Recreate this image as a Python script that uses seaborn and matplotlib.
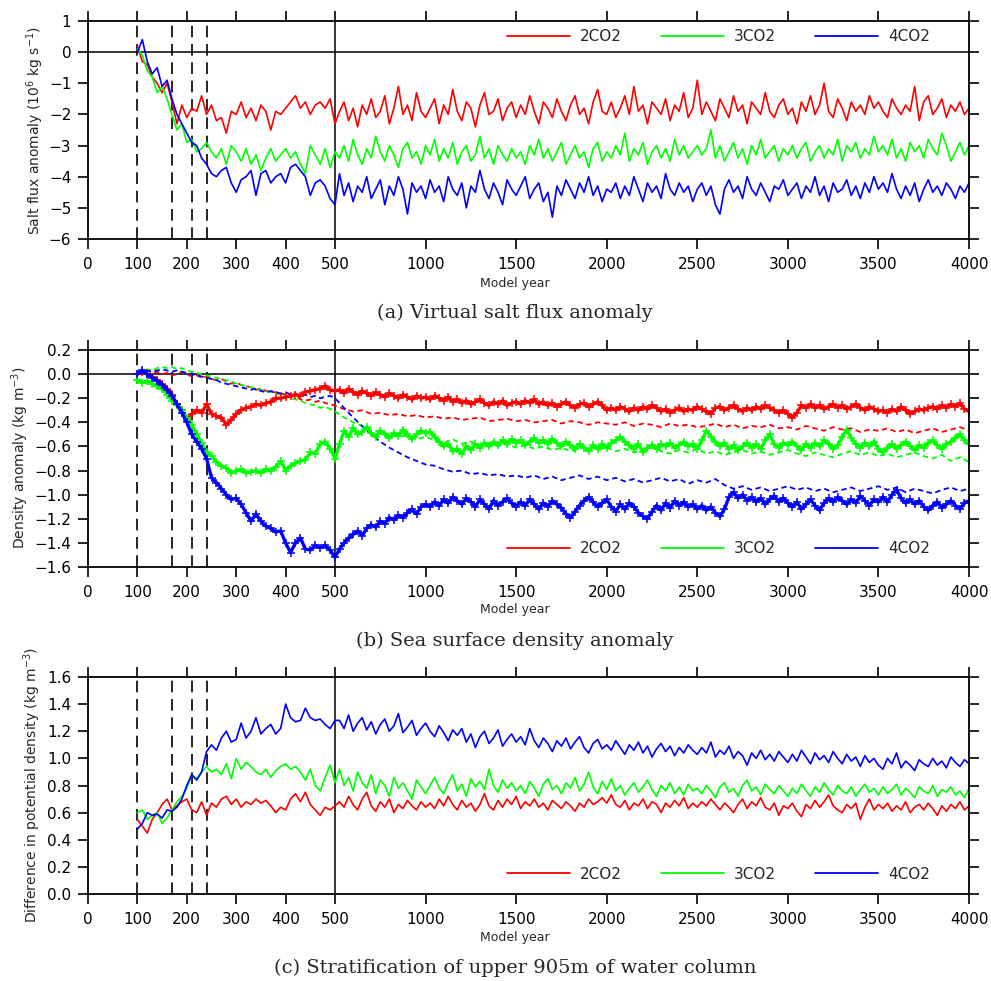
import numpy as np
import pandas as pd
import matplotlib
matplotlib.use("Agg")
import matplotlib.pyplot as plt
import seaborn as sns
from matplotlib.lines import Line2D

# ---------------------------------------------------------------- data
SCENARIOS = ["2CO2", "3CO2", "4CO2"]
COLORS = {"2CO2": "#FF0000", "3CO2": "#00FF00", "4CO2": "#0000FF"}

YEARS_EARLY = list(range(100, 501, 10))          # 41 years
YEARS_LATE = list(range(525, 4001, 25))          # 140 years
YEARS_LATE_DASHED = list(range(550, 4001, 50))   # 70 years

EVENT_YEARS = [100, 170, 210, 240]
BREAK_YEAR = 500

X_TICKS = [0, 100, 200, 300, 400, 500, 1000, 1500, 2000, 2500, 3000, 3500, 4000]
X_TICK_LABELS = ["0", "100", "200", "300", "400", "500", "1000", "1500", "2000",
                 "2500", "3000", "3500", "4000"]
YA_TICKS = [-6, -5, -4, -3, -2, -1, 0, 1]
YA_TICK_LABELS = ["\u22126", "\u22125", "\u22124", "\u22123", "\u22122", "\u22121", "0", "1"]
YB_TICKS = [-1.6, -1.4, -1.2, -1.0, -0.8, -0.6, -0.4, -0.2, 0.0, 0.2]
YB_TICK_LABELS = ["\u22121.6", "\u22121.4", "\u22121.2", "\u22121.0", "\u22120.8",
                  "\u22120.6", "\u22120.4", "\u22120.2", "0.0", "0.2"]
YC_TICKS = [0.0, 0.2, 0.4, 0.6, 0.8, 1.0, 1.2, 1.4, 1.6]
YC_TICK_LABELS = ["0.0", "0.2", "0.4", "0.6", "0.8", "1.0", "1.2", "1.4", "1.6"]

# (a) virtual salt flux anomaly
SALT_2CO2_EARLY = [0.2, -0.3, -0.4, -0.8, -1.0, -1.3, -1.0, -1.6, -2.3, -1.7,
                   -2.1, -1.8, -1.9, -1.4, -2.0, -1.7, -2.2, -2.1, -2.6, -1.9,
                   -2.0, -1.6, -2.1, -1.8, -2.2, -1.7, -1.9, -2.5, -1.9, -2.0,
                   -1.8, -1.6, -1.4, -1.8, -1.6, -2.0, -1.7, -1.6, -1.8, -1.5,
                   -2.3]
SALT_2CO2_LATE = [-1.9, -1.6, -2.2, -1.8, -2.4, -1.7, -2.0, -1.5, -2.1, -1.9, -1.4, -2.3, -1.8, -1.1, -2.0, -1.7, -2.2, -1.3, -1.9, -2.1,
                  -1.8, -1.5, -2.3, -1.7, -2.0, -1.2, -1.9, -2.2, -1.6, -1.8, -2.4, -1.7, -1.3, -2.0, -1.9, -1.5, -2.2, -1.8, -1.6, -2.1,
                  -1.7, -2.0, -1.4, -1.9, -2.3, -1.6, -1.8, -2.1, -1.5, -1.9, -2.2, -1.7, -1.4, -2.0, -1.8, -2.3, -1.6, -1.2, -1.9, -2.0,
                  -1.6, -2.1, -1.8, -1.4, -2.0, -1.1, -1.9, -1.7, -2.3, -1.6, -1.8, -2.0, -1.5, -2.2, -1.7, -1.9, -1.3, -2.1, -1.8, -0.9,
                  -2.0, -1.6, -1.9, -2.2, -1.5, -1.8, -2.1, -1.4, -1.9, -1.7, -2.3, -1.6, -1.8, -2.0, -1.3, -1.9, -2.1, -1.7, -1.5, -2.0,
                  -1.8, -2.3, -1.6, -1.9, -1.4, -2.0, -1.7, -1.0, -1.9, -2.1, -1.5, -1.8, -2.2, -1.6, -1.9, -1.7, -2.0, -1.4, -1.8, -1.6,
                  -1.9, -2.1, -1.5, -1.8, -2.0, -1.7, -1.9, -1.1, -2.2, -1.6, -1.4, -2.0, -1.8, -1.5, -2.1, -1.7, -1.9, -1.6, -2.0, -1.8]
SALT_3CO2_EARLY = [0.1, -0.1, -0.6, -0.8, -1.3, -1.1, -1.5, -2.0, -2.5, -2.3,
                   -2.9, -2.8, -3.2, -3.1, -2.9, -3.2, -3.4, -3.1, -3.6, -3.0,
                   -3.2, -3.5, -3.1, -3.6, -3.3, -3.8, -3.4, -3.1, -3.5, -3.3,
                   -3.1, -3.4, -3.2, -3.6, -3.9, -3.0, -3.3, -3.6, -3.1, -3.7,
                   -3.2]
SALT_3CO2_LATE = [-3.4, -3.0, -3.5, -2.8, -3.3, -3.6, -3.1, -3.4, -2.7, -3.2, -3.5, -3.0, -3.3, -3.7, -3.1, -2.9, -3.4, -3.2, -3.6, -3.0,
                  -3.3, -2.8, -3.5, -3.1, -3.4, -2.9, -3.6, -3.2, -3.0, -3.5, -3.3, -2.7, -3.4, -3.1, -3.6, -3.0, -3.3, -3.5, -3.1, -3.4,
                  -3.2, -3.6, -3.0, -3.3, -2.8, -3.4, -3.1, -3.5, -3.2, -2.9, -3.6, -3.3, -3.0, -3.4, -3.2, -3.7, -3.1, -2.9, -3.5, -3.2,
                  -3.4, -3.0, -3.3, -2.6, -3.5, -3.1, -3.3, -2.9, -3.6, -3.2, -3.0, -3.4, -3.1, -3.5, -2.8, -3.3, -3.0, -3.4, -3.2, -3.0,
                  -3.3, -3.1, -2.5, -3.4, -3.0, -3.5, -3.2, -2.9, -3.4, -3.1, -3.6, -3.0, -3.3, -2.8, -3.4, -3.2, -3.0, -3.5, -3.1, -3.3,
                  -3.0, -3.4, -3.1, -2.9, -3.5, -3.2, -3.0, -3.4, -3.1, -3.3, -2.8, -3.5, -3.0, -3.2, -2.9, -3.4, -3.1, -3.3, -2.7, -3.2,
                  -3.0, -3.3, -2.8, -3.4, -3.1, -3.5, -2.9, -3.2, -3.0, -3.4, -2.8, -3.1, -3.3, -2.6, -3.0, -3.5, -3.2, -2.9, -3.3, -3.0]
SALT_4CO2_EARLY = [0.0, 0.4, -0.3, -0.7, -0.5, -1.1, -0.9, -1.5, -2.0, -2.3,
                   -2.6, -2.9, -3.0, -3.4, -3.6, -3.9, -4.0, -3.8, -3.7, -4.2,
                   -4.5, -4.1, -4.0, -3.8, -4.6, -3.9, -3.8, -4.2, -4.0, -3.9,
                   -4.2, -3.7, -3.6, -3.8, -4.0, -4.6, -4.2, -4.1, -4.3, -4.7,
                   -4.9]
SALT_4CO2_LATE = [-3.9, -4.6, -4.2, -4.8, -4.3, -4.5, -4.0, -4.7, -4.4, -4.1, -4.9, -4.3, -4.6, -4.0, -4.4, -5.2, -4.2, -4.5, -4.3, -4.7,
                  -4.1, -4.5, -4.3, -4.8, -4.0, -4.4, -4.6, -4.2, -5.0, -4.3, -4.5, -3.8, -4.4, -4.7, -4.2, -4.5, -4.9, -4.1, -4.4, -4.6,
                  -4.3, -4.0, -4.7, -4.4, -4.2, -4.8, -4.5, -5.3, -4.3, -4.6, -4.1, -4.4, -4.7, -4.2, -4.5, -4.0, -4.6, -4.3, -4.8, -4.4,
                  -4.5, -4.2, -4.7, -4.3, -4.6, -4.0, -4.4, -4.8, -4.2, -4.5, -4.3, -4.7, -3.9, -4.4, -4.6, -4.2, -4.5, -4.3, -4.8, -4.4,
                  -4.2, -4.6, -4.3, -4.9, -5.2, -4.4, -4.1, -4.5, -4.3, -4.7, -4.0, -4.4, -4.6, -4.2, -4.5, -4.8, -4.3, -4.4, -4.1, -4.6,
                  -4.4, -4.2, -4.7, -4.3, -4.5, -4.0, -4.6, -4.3, -4.8, -4.2, -4.5, -4.4, -4.1, -4.6, -4.3, -4.7, -4.2, -4.5, -4.0, -4.4,
                  -4.2, -4.5, -3.9, -4.4, -4.7, -4.3, -4.6, -4.2, -4.8, -4.4, -4.1, -4.5, -4.3, -4.6, -4.2, -4.4, -4.7, -4.3, -4.5, -4.2]

# (b) sea surface density anomaly: solid (thick, "+") and dashed series
DENS_2CO2_EARLY = [0.00, 0.02, 0.00, -0.02, -0.05, -0.08, -0.12, -0.17, -0.25, -0.30,
                   -0.38, -0.33, -0.30, -0.32, -0.25, -0.33, -0.35, -0.36, -0.42, -0.38,
                   -0.33, -0.30, -0.28, -0.27, -0.25, -0.26, -0.24, -0.23, -0.20, -0.20,
                   -0.19, -0.18, -0.17, -0.18, -0.15, -0.14, -0.13, -0.12, -0.10, -0.13,
                   -0.14]
DENS_2CO2_LATE = [-0.13, -0.16, -0.12, -0.15, -0.17, -0.14, -0.16, -0.18, -0.15, -0.17, -0.19, -0.16, -0.18, -0.20, -0.17, -0.19, -0.21, -0.18, -0.20, -0.19,
                  -0.21, -0.18, -0.20, -0.22, -0.19, -0.23, -0.21, -0.24, -0.22, -0.25, -0.23, -0.21, -0.24, -0.26, -0.23, -0.25, -0.22, -0.26, -0.24, -0.23,
                  -0.25, -0.22, -0.24, -0.21, -0.25, -0.23, -0.26, -0.24, -0.27, -0.25, -0.23, -0.26, -0.28, -0.25, -0.24, -0.27, -0.25, -0.23, -0.26, -0.30,
                  -0.28, -0.30, -0.27, -0.29, -0.31, -0.28, -0.30, -0.27, -0.29, -0.26, -0.28, -0.31, -0.29, -0.32, -0.30, -0.28, -0.31, -0.29, -0.30, -0.27,
                  -0.29, -0.31, -0.33, -0.28, -0.27, -0.30, -0.28, -0.26, -0.29, -0.31, -0.28, -0.30, -0.27, -0.29, -0.26, -0.28, -0.30, -0.32, -0.30, -0.33,
                  -0.36, -0.32, -0.26, -0.28, -0.25, -0.28, -0.26, -0.29, -0.27, -0.25, -0.28, -0.26, -0.29, -0.27, -0.25, -0.28, -0.30, -0.27, -0.29, -0.31,
                  -0.30, -0.32, -0.29, -0.31, -0.27, -0.30, -0.33, -0.31, -0.29, -0.30, -0.28, -0.27, -0.29, -0.26, -0.28, -0.25, -0.27, -0.24, -0.29, -0.31]
DENS_3CO2_EARLY = [-0.05, -0.07, -0.06, -0.08, -0.10, -0.12, -0.17, -0.22, -0.26, -0.30,
                   -0.36, -0.42, -0.50, -0.57, -0.65, -0.68, -0.73, -0.76, -0.78, -0.82,
                   -0.80, -0.79, -0.82, -0.81, -0.80, -0.82, -0.79, -0.80, -0.77, -0.72,
                   -0.80, -0.76, -0.74, -0.72, -0.71, -0.65, -0.66, -0.58, -0.56, -0.62,
                   -0.70]
DENS_3CO2_LATE = [-0.58, -0.47, -0.52, -0.45, -0.50, -0.48, -0.44, -0.49, -0.52, -0.47, -0.50, -0.53, -0.49, -0.51, -0.46, -0.50, -0.54, -0.50, -0.47, -0.49,
                  -0.48, -0.52, -0.56, -0.60, -0.58, -0.64, -0.62, -0.66, -0.60, -0.63, -0.58, -0.61, -0.57, -0.60, -0.56, -0.59, -0.55, -0.58, -0.54, -0.57,
                  -0.55, -0.59, -0.56, -0.53, -0.57, -0.55, -0.58, -0.54, -0.57, -0.60, -0.56, -0.59, -0.62, -0.58, -0.61, -0.64, -0.59, -0.62, -0.58, -0.61,
                  -0.57, -0.55, -0.52, -0.56, -0.59, -0.62, -0.58, -0.65, -0.61, -0.59, -0.62, -0.58, -0.60, -0.57, -0.61, -0.59, -0.56, -0.60, -0.58, -0.62,
                  -0.55, -0.47, -0.52, -0.56, -0.60, -0.57, -0.62, -0.59, -0.63, -0.60, -0.57, -0.61, -0.58, -0.62, -0.55, -0.50, -0.58, -0.61, -0.57, -0.59,
                  -0.56, -0.60, -0.63, -0.58, -0.61, -0.57, -0.60, -0.55, -0.58, -0.62, -0.59, -0.52, -0.46, -0.53, -0.58, -0.61, -0.57, -0.60, -0.56, -0.62,
                  -0.65, -0.61, -0.58, -0.62, -0.59, -0.56, -0.60, -0.63, -0.59, -0.61, -0.57, -0.55, -0.59, -0.62, -0.58, -0.56, -0.53, -0.50, -0.55, -0.58]
DENS_4CO2_EARLY = [0.00, 0.03, 0.00, -0.03, -0.06, -0.09, -0.13, -0.18, -0.25, -0.32,
                   -0.40, -0.50, -0.56, -0.62, -0.70, -0.86, -0.90, -0.95, -1.00, -1.04,
                   -1.03, -1.08, -1.15, -1.22, -1.16, -1.22, -1.26, -1.28, -1.31, -1.30,
                   -1.40, -1.48, -1.40, -1.36, -1.45, -1.46, -1.42, -1.44, -1.42, -1.46,
                   -1.52]
DENS_4CO2_LATE = [-1.45, -1.40, -1.36, -1.33, -1.30, -1.34, -1.28, -1.25, -1.27, -1.22, -1.24, -1.19, -1.21, -1.17, -1.19, -1.15, -1.12, -1.16, -1.10, -1.08,
                  -1.10, -1.06, -1.09, -1.04, -1.07, -1.02, -1.05, -1.08, -1.03, -1.06, -1.10, -1.04, -1.08, -1.12, -1.05, -1.09, -1.06, -1.03, -1.07, -1.10,
                  -1.06, -1.09, -1.04, -1.08, -1.12, -1.07, -1.10, -1.05, -1.08, -1.11, -1.16, -1.19, -1.14, -1.09, -1.05, -1.02, -1.06, -1.10, -1.07, -1.04,
                  -1.10, -1.14, -1.08, -1.12, -1.07, -1.10, -1.15, -1.18, -1.20, -1.14, -1.09, -1.13, -1.07, -1.11, -1.05, -1.09, -1.06, -1.10, -1.08, -1.12,
                  -1.09, -1.13, -1.10, -1.15, -1.18, -1.12, -1.02, -0.98, -1.03, -1.00, -1.05, -1.02, -1.06, -1.03, -1.08, -1.04, -1.01, -1.06, -1.03, -1.07,
                  -1.10, -1.06, -1.12, -1.08, -1.04, -1.09, -1.13, -1.07, -1.03, -1.06, -1.02, -1.05, -1.08, -1.04, -1.07, -1.01, -1.05, -1.09, -1.04, -1.06,
                  -1.02, -1.06, -1.00, -0.96, -1.03, -1.07, -1.04, -1.08, -1.05, -1.10, -1.13, -1.09, -1.06, -1.11, -1.08, -1.05, -1.09, -1.12, -1.07, -1.05]

DENS_DASH_2CO2_EARLY = [0.00, 0.02, 0.03, 0.01, 0.02, 0.00, 0.01, -0.01, 0.00, 0.02,
                        0.00, -0.02, -0.01, -0.03, -0.02, -0.04, -0.05, -0.04, -0.06, -0.08,
                        -0.07, -0.09, -0.10, -0.11, -0.13, -0.12, -0.14, -0.15, -0.15, -0.16,
                        -0.17, -0.19, -0.18, -0.21, -0.22, -0.21, -0.23, -0.22, -0.24, -0.25,
                        -0.26]
DENS_DASH_2CO2_LATE = [-0.29, -0.31, -0.30, -0.33, -0.32, -0.34, -0.33, -0.35, -0.34, -0.36,
                       -0.35, -0.37, -0.36, -0.38, -0.37, -0.36, -0.39, -0.38, -0.37, -0.39,
                       -0.38, -0.40, -0.39, -0.38, -0.41, -0.39, -0.40, -0.42, -0.40, -0.41,
                       -0.42, -0.40, -0.43, -0.41, -0.42, -0.44, -0.41, -0.43, -0.42, -0.44,
                       -0.43, -0.41, -0.44, -0.42, -0.45, -0.43, -0.44, -0.42, -0.45, -0.44,
                       -0.46, -0.43, -0.45, -0.47, -0.44, -0.46, -0.45, -0.48, -0.46, -0.47,
                       -0.45, -0.48, -0.46, -0.49, -0.47, -0.45, -0.48, -0.46, -0.44, -0.47]
DENS_DASH_3CO2_EARLY = [0.00, 0.02, 0.04, 0.03, 0.05, 0.06, 0.05, 0.06, 0.04, 0.05,
                        0.03, 0.02, 0.01, 0.00, -0.01, -0.02, -0.03, -0.04, -0.05, -0.06,
                        -0.08, -0.09, -0.10, -0.11, -0.12, -0.13, -0.14, -0.15, -0.16, -0.17,
                        -0.18, -0.20, -0.21, -0.22, -0.24, -0.25, -0.26, -0.28, -0.27, -0.29,
                        -0.31]
DENS_DASH_3CO2_LATE = [-0.36, -0.40, -0.43, -0.46, -0.48, -0.50, -0.52, -0.51, -0.54, -0.52,
                       -0.55, -0.57, -0.54, -0.58, -0.56, -0.59, -0.57, -0.60, -0.58, -0.61,
                       -0.59, -0.62, -0.60, -0.63, -0.61, -0.64, -0.62, -0.60, -0.63, -0.61,
                       -0.64, -0.62, -0.65, -0.63, -0.61, -0.64, -0.66, -0.63, -0.65, -0.62,
                       -0.66, -0.64, -0.67, -0.65, -0.63, -0.66, -0.64, -0.67, -0.65, -0.63,
                       -0.66, -0.68, -0.65, -0.67, -0.69, -0.66, -0.64, -0.67, -0.65, -0.68,
                       -0.66, -0.69, -0.67, -0.65, -0.68, -0.70, -0.67, -0.72, -0.69, -0.73]
DENS_DASH_4CO2_EARLY = [0.00, 0.02, 0.03, 0.02, 0.03, 0.04, 0.03, 0.02, 0.03, 0.02,
                        0.01, 0.00, -0.01, -0.02, -0.03, -0.04, -0.05, -0.07, -0.08, -0.09,
                        -0.10, -0.11, -0.12, -0.13, -0.12, -0.14, -0.15, -0.14, -0.15, -0.16,
                        -0.15, -0.17, -0.16, -0.18, -0.17, -0.19, -0.18, -0.20, -0.19, -0.18,
                        -0.20]
DENS_DASH_4CO2_LATE = [-0.28, -0.36, -0.43, -0.50, -0.56, -0.61, -0.65, -0.69, -0.72, -0.75,
                       -0.76, -0.79, -0.81, -0.80, -0.83, -0.82, -0.84, -0.83, -0.85, -0.84,
                       -0.86, -0.84, -0.87, -0.85, -0.88, -0.86, -0.84, -0.87, -0.85, -0.88,
                       -0.86, -0.89, -0.87, -0.90, -0.88, -0.86, -0.89, -0.87, -0.91, -0.88,
                       -0.90, -0.87, -0.92, -0.95, -0.93, -0.96, -0.94, -0.97, -0.95, -0.93,
                       -0.96, -0.94, -0.97, -0.95, -0.98, -0.96, -0.94, -0.97, -0.95, -0.93,
                       -0.96, -0.94, -0.98, -0.95, -0.97, -0.99, -0.96, -0.94, -0.97, -0.95]

# (c) stratification of upper 905 m
STRAT_2CO2_EARLY = [0.55, 0.50, 0.45, 0.55, 0.60, 0.66, 0.70, 0.62, 0.65, 0.68,
                    0.70, 0.62, 0.60, 0.68, 0.58, 0.67, 0.64, 0.70, 0.72, 0.66,
                    0.70, 0.64, 0.68, 0.66, 0.70, 0.67, 0.69, 0.65, 0.60, 0.64,
                    0.62, 0.70, 0.74, 0.68, 0.75, 0.66, 0.62, 0.58, 0.64, 0.62,
                    0.65]
STRAT_2CO2_LATE = [0.68, 0.64, 0.72, 0.66, 0.62, 0.70, 0.75, 0.65, 0.61, 0.68, 0.64, 0.70, 0.60, 0.66, 0.63, 0.69, 0.65, 0.62, 0.68, 0.64,
                   0.67, 0.63, 0.70, 0.65, 0.72, 0.66, 0.62, 0.69, 0.64, 0.67, 0.61, 0.66, 0.74, 0.65, 0.62, 0.69, 0.64, 0.70, 0.66, 0.72,
                   0.63, 0.68, 0.65, 0.70, 0.64, 0.67, 0.62, 0.69, 0.66, 0.63, 0.68, 0.65, 0.61, 0.67, 0.64, 0.70, 0.66, 0.68, 0.71, 0.67,
                   0.73, 0.66, 0.64, 0.69, 0.62, 0.67, 0.65, 0.70, 0.63, 0.68, 0.66, 0.60, 0.67, 0.64, 0.69, 0.65, 0.71, 0.63, 0.67, 0.64,
                   0.68, 0.65, 0.70, 0.66, 0.62, 0.67, 0.64, 0.60, 0.66, 0.70, 0.63, 0.68, 0.65, 0.71, 0.64, 0.62, 0.67, 0.58, 0.65, 0.63,
                   0.67, 0.61, 0.57, 0.66, 0.63, 0.69, 0.64, 0.68, 0.73, 0.65, 0.62, 0.60, 0.66, 0.63, 0.67, 0.55, 0.64, 0.70, 0.62, 0.66,
                   0.63, 0.67, 0.61, 0.65, 0.62, 0.68, 0.60, 0.64, 0.66, 0.62, 0.67, 0.63, 0.58, 0.65, 0.61, 0.66, 0.63, 0.68, 0.62, 0.65]
STRAT_3CO2_EARLY = [0.60, 0.62, 0.55, 0.58, 0.60, 0.52, 0.56, 0.62, 0.68, 0.72,
                    0.78, 0.88, 0.85, 0.90, 0.94, 0.90, 0.92, 0.88, 0.96, 0.85,
                    1.00, 0.92, 0.97, 0.94, 0.90, 0.88, 0.92, 0.86, 0.91, 0.94,
                    0.96, 0.92, 0.94, 0.90, 0.84, 0.92, 0.80, 0.76, 0.86, 0.95,
                    0.82]
STRAT_3CO2_LATE = [0.92, 0.80, 0.86, 0.76, 0.90, 0.82, 0.78, 0.88, 0.74, 0.84, 0.80, 0.72, 0.86, 0.78, 0.82, 0.76, 0.70, 0.84, 0.79, 0.74,
                   0.80, 0.86, 0.78, 0.74, 0.82, 0.88, 0.76, 0.81, 0.72, 0.85, 0.79, 0.83, 0.77, 0.92, 0.80, 0.75, 0.84, 0.78, 0.82, 0.76,
                   0.80, 0.74, 0.83, 0.78, 0.72, 0.81, 0.85, 0.77, 0.80, 0.74, 0.82, 0.78, 0.86, 0.76, 0.81, 0.90, 0.79, 0.74, 0.83, 0.77,
                   0.85, 0.76, 0.80, 0.73, 0.78, 0.82, 0.75, 0.79, 0.84, 0.77, 0.72, 0.80, 0.76, 0.82, 0.74, 0.79, 0.73, 0.81, 0.76, 0.78,
                   0.74, 0.80, 0.76, 0.71, 0.79, 0.82, 0.75, 0.78, 0.72, 0.80, 0.84, 0.76, 0.79, 0.73, 0.81, 0.77, 0.74, 0.80, 0.76, 0.72,
                   0.78, 0.74, 0.81, 0.76, 0.72, 0.79, 0.75, 0.82, 0.77, 0.73, 0.80, 0.76, 0.74, 0.79, 0.72, 0.77, 0.81, 0.75, 0.78, 0.73,
                   0.79, 0.74, 0.77, 0.81, 0.73, 0.78, 0.75, 0.71, 0.79, 0.76, 0.74, 0.80, 0.72, 0.77, 0.75, 0.79, 0.73, 0.76, 0.71, 0.78]
STRAT_4CO2_EARLY = [0.48, 0.52, 0.60, 0.58, 0.59, 0.56, 0.62, 0.61, 0.64, 0.70,
                    0.80, 0.88, 0.84, 0.90, 1.05, 1.10, 1.06, 1.15, 1.20, 1.12,
                    1.14, 1.26, 1.15, 1.20, 1.30, 1.18, 1.22, 1.25, 1.18, 1.22,
                    1.40, 1.30, 1.27, 1.28, 1.37, 1.30, 1.28, 1.29, 1.25, 1.22,
                    1.28]
STRAT_4CO2_LATE = [1.28, 1.22, 1.32, 1.20, 1.26, 1.30, 1.21, 1.27, 1.18, 1.25, 1.29, 1.20, 1.24, 1.33, 1.19, 1.23, 1.28, 1.17, 1.22, 1.26,
                   1.20, 1.16, 1.24, 1.19, 1.13, 1.21, 1.17, 1.22, 1.12, 1.18, 1.08, 1.16, 1.20, 1.11, 1.15, 1.21, 1.09, 1.14, 1.18, 1.12,
                   1.16, 1.10, 1.22, 1.13, 1.08, 1.15, 1.11, 1.05, 1.13, 1.09, 1.15, 1.07, 1.12, 1.16, 1.08, 1.04, 1.11, 1.14, 1.07, 1.10,
                   1.06, 1.13, 1.08, 1.03, 1.10, 1.06, 1.12, 1.04, 1.09, 1.01, 1.07, 1.11, 1.05, 1.09, 1.02, 1.08, 1.04, 1.10, 1.06, 1.03,
                   1.08, 1.04, 1.12, 1.01, 1.06, 1.03, 1.09, 1.00, 1.05, 1.02, 0.95, 1.04, 1.00, 1.06, 0.99, 1.03, 0.98, 1.05, 1.01, 0.97,
                   1.03, 0.98, 1.06, 1.01, 0.96, 1.04, 0.99, 1.02, 0.97, 1.05, 1.00, 0.96, 1.03, 0.98, 1.01, 0.94, 1.02, 0.97, 1.00, 0.95,
                   0.92, 1.00, 0.96, 1.04, 0.93, 0.98, 0.95, 0.91, 0.99, 0.96, 0.94, 1.00, 0.95, 0.98, 0.93, 1.01, 0.97, 0.94, 0.99, 0.96]


def long_frame(series, years_late):
    rows = []
    for scen, (early, late) in series.items():
        ys = YEARS_EARLY + years_late
        vs = early + late
        n = min(len(ys), len(vs))
        for y, v in zip(ys[:n], vs[:n]):
            rows.append((y, v, scen))
    return pd.DataFrame(rows, columns=["year", "value", "scenario"])


df_a = long_frame({"2CO2": (SALT_2CO2_EARLY, SALT_2CO2_LATE),
                   "3CO2": (SALT_3CO2_EARLY, SALT_3CO2_LATE),
                   "4CO2": (SALT_4CO2_EARLY, SALT_4CO2_LATE)}, YEARS_LATE)
df_b = long_frame({"2CO2": (DENS_2CO2_EARLY, DENS_2CO2_LATE),
                   "3CO2": (DENS_3CO2_EARLY, DENS_3CO2_LATE),
                   "4CO2": (DENS_4CO2_EARLY, DENS_4CO2_LATE)}, YEARS_LATE)
df_b_dash = long_frame({"2CO2": (DENS_DASH_2CO2_EARLY, DENS_DASH_2CO2_LATE),
                        "3CO2": (DENS_DASH_3CO2_EARLY, DENS_DASH_3CO2_LATE),
                        "4CO2": (DENS_DASH_4CO2_EARLY, DENS_DASH_4CO2_LATE)}, YEARS_LATE_DASHED)
df_c = long_frame({"2CO2": (STRAT_2CO2_EARLY, STRAT_2CO2_LATE),
                   "3CO2": (STRAT_3CO2_EARLY, STRAT_3CO2_LATE),
                   "4CO2": (STRAT_4CO2_EARLY, STRAT_4CO2_LATE)}, YEARS_LATE)

# ---------------------------------------------------------------- style
sns.set_style("ticks")
plt.rcParams["font.family"] = ["DejaVu Sans"]

W, H = 991, 981
fig = plt.figure(figsize=(W / 100, H / 100), dpi=100)

K = (634.0 / 3500.0) / (247.0 / 500.0)


def fwd(x):
    x = np.asarray(x, dtype=float)
    return np.where(x <= BREAK_YEAR, x, BREAK_YEAR + (x - BREAK_YEAR) * K)


def inv(x):
    x = np.asarray(x, dtype=float)
    return np.where(x <= BREAK_YEAR, x, BREAK_YEAR + (x - BREAK_YEAR) / K)


def px_axes(top, bottom, left=88, right=969):
    return [left / W, 1 - bottom / H, (right - left) / W, (bottom - top) / H]


ax_a = fig.add_axes(px_axes(21, 239))
ax_b = fig.add_axes(px_axes(350, 567))
ax_c = fig.add_axes(px_axes(677, 894))

sns.lineplot(data=df_a, x="year", y="value", hue="scenario", hue_order=SCENARIOS,
             palette=COLORS, estimator=None, legend=False, ax=ax_a, linewidth=1.2)
sns.lineplot(data=df_b_dash, x="year", y="value", hue="scenario", hue_order=SCENARIOS,
             palette=COLORS, estimator=None, legend=False, ax=ax_b, linewidth=1.3,
             linestyle=(0, (3.0, 2.0)))
for scen in SCENARIOS:
    sub = df_b[df_b["scenario"] == scen]
    sns.lineplot(data=sub, x="year", y="value", color=COLORS[scen], estimator=None,
                 legend=False, ax=ax_b, linewidth=2.4, marker="+", markersize=5.5,
                 markeredgewidth=1.1, markeredgecolor=COLORS[scen],
                 markerfacecolor=COLORS[scen])
sns.lineplot(data=df_c, x="year", y="value", hue="scenario", hue_order=SCENARIOS,
             palette=COLORS, estimator=None, legend=False, ax=ax_c, linewidth=1.2)

panels = [
    (ax_a, (-6, 1), YA_TICKS, YA_TICK_LABELS, True, 0.927),
    (ax_b, (-1.6, 0.2), YB_TICKS, YB_TICK_LABELS, True, 0.083),
    (ax_c, (0.0, 1.6), YC_TICKS, YC_TICK_LABELS, False, 0.092),
]

for ax, ylim, yt, ytl, zero_line, leg_y in panels:
    ax.set_xscale("function", functions=(fwd, inv))
    ax.set_xlim(0, 4000)
    ax.set_ylim(*ylim)
    ax.set_xticks(X_TICKS)
    ax.set_xticklabels(X_TICK_LABELS)
    ax.set_yticks(yt)
    ax.set_yticklabels(ytl)
    ax.minorticks_off()
    ax.set_xlabel("")
    ax.set_ylabel("")
    ax.tick_params(axis="both", which="major", direction="out", length=7, width=1.2,
                   labelsize=11, top=True, right=True, labeltop=False, labelright=False,
                   colors="black", pad=5)
    ax.tick_params(axis="x", pad=6)
    for sp in ax.spines.values():
        sp.set_visible(True)
        sp.set_linewidth(1.3)
        sp.set_color("black")
    if zero_line:
        ax.axhline(0, color="black", linewidth=1.1, zorder=1)
    ax.axvline(BREAK_YEAR, color="black", linewidth=1.1, zorder=1)
    for ev in EVENT_YEARS:
        ax.axvline(ev, color="black", linewidth=1.2, linestyle=(0, (7, 4)), zorder=1)
    handles = [Line2D([0], [0], color=COLORS[s], linewidth=1.3) for s in SCENARIOS]
    ax.legend(handles, SCENARIOS, loc="center left", bbox_to_anchor=((507 - 88) / 881, leg_y),
              ncol=3, frameon=False, fontsize=11, handlelength=4.1, handletextpad=0.65,
              columnspacing=2.6, borderpad=0, borderaxespad=0)


def ftext(x, y, s, **kw):
    fig.text(x / W, 1 - y / H, s, **kw)


# x labels
for y in (283, 610, 938):
    ftext(515, y, "Model year", ha="center", va="center", fontsize=9)

# y labels
ftext(35, 130, "Salt flux anomaly (10$^6$ kg s$^{-1}$)", rotation=90,
      ha="center", va="center", fontsize=10)
ftext(20, 458, "Density anomaly (kg m$^{-3}$)", rotation=90,
      ha="center", va="center", fontsize=10)
ftext(32, 785, "Difference in potential density (kg m$^{-3}$)", rotation=90,
      ha="center", va="center", fontsize=10)

# panel titles
ftext(515, 313, "(a) Virtual salt flux anomaly", ha="center", va="center",
      fontsize=14, family=["DejaVu Serif"])
ftext(515, 641, "(b) Sea surface density anomaly", ha="center", va="center",
      fontsize=14, family=["DejaVu Serif"])
ftext(515, 968, "(c) Stratification of upper 905m of water column", ha="center",
      va="center", fontsize=14, family=["DejaVu Serif"])

fig.savefig("out.png", dpi=100)
